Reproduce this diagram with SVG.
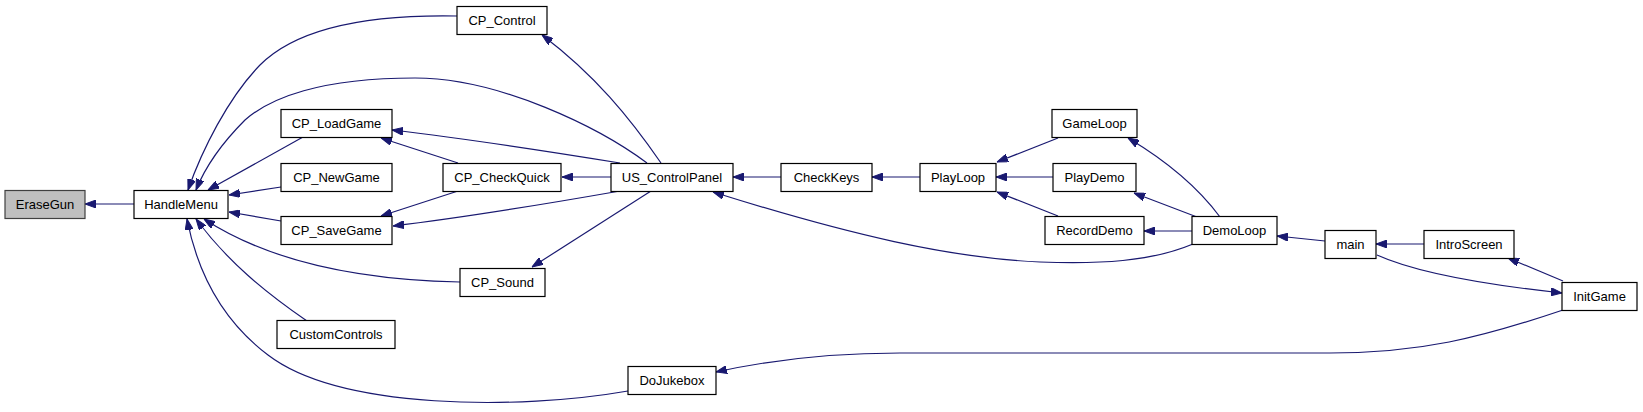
<svg xmlns="http://www.w3.org/2000/svg" width="1643" height="412" viewBox="0 0 1643 412">
<defs>
<marker id="arr" markerUnits="userSpaceOnUse" markerWidth="11" markerHeight="8" refX="11" refY="4" orient="auto">
<path d="M0,0 L11,4 L0,8 z" fill="#191970" stroke="#191970" stroke-width="1"/>
</marker>
</defs>
<style>
.n rect{fill:#ffffff;stroke:#000000;stroke-width:1.2}
.n.hl rect{fill:#bfbfbf;stroke:#404040}
.n text{font-family:"Liberation Sans",Arial,sans-serif;font-size:13px;fill:#000000;text-anchor:middle}
#edges path{fill:none;stroke:#191970;stroke-width:1.2;marker-end:url(#arr)}
</style>
<rect width="1643" height="412" fill="#ffffff"/>
<g id="edges">
<path d="M134,204 L85,204"/>
<path d="M457,16 C350,14 290,35 260,65 C228,98 202,150 188,190"/>
<path d="M647,163 C600,128 500,78 415,78 C320,78 270,98 245,120 C225,140 206,165 196,190"/>
<path d="M303,137 L208,190"/>
<path d="M281,187 L229,195"/>
<path d="M281,221 L229,212"/>
<path d="M460,282 C360,280 270,262 204,219"/>
<path d="M307,321 C265,292 228,262 196,219"/>
<path d="M628,391 C520,410 340,410 268,355 C215,315 195,260 187,219"/>
<path d="M661,163 C630,118 595,75 542,35"/>
<path d="M620,163 C540,150 460,138 392,130"/>
<path d="M458,163 L381,138"/>
<path d="M611,177 L562,177"/>
<path d="M458,191 L381,216"/>
<path d="M620,191 C540,205 460,218 393,226"/>
<path d="M651,191 L532,267"/>
<path d="M781,177 L733,177"/>
<path d="M1193,244 C1150,262 1100,264 1040,262 C950,258 850,235 713,192"/>
<path d="M920,177 L872,177"/>
<path d="M1058,138 L997,162"/>
<path d="M1053,177 L996,177"/>
<path d="M1058,216 L997,192"/>
<path d="M1220,217 C1200,190 1170,163 1128,138"/>
<path d="M1197,217 L1134,193"/>
<path d="M1192,231 L1144,231"/>
<path d="M1325,241 L1277,236"/>
<path d="M1424,244 L1376,244"/>
<path d="M1377,255 C1410,270 1470,283 1562,293"/>
<path d="M1563,281 L1508,258"/>
<path d="M1563,310 C1480,338 1420,353 1330,353 L900,353 C830,353 770,360 716,372"/>
</g>
<g id="EraseGun" class="n hl"><rect x="5" y="190.5" width="80" height="28"/><text x="45" y="209">EraseGun</text></g>
<g id="HandleMenu" class="n"><rect x="134" y="190.5" width="94" height="28"/><text x="181" y="209">HandleMenu</text></g>
<g id="CP_Control" class="n"><rect x="457" y="6.5" width="90" height="28"/><text x="502" y="25">CP_Control</text></g>
<g id="CP_LoadGame" class="n"><rect x="281" y="109.5" width="111" height="28"/><text x="336.5" y="128">CP_LoadGame</text></g>
<g id="CP_NewGame" class="n"><rect x="281" y="163.5" width="111" height="28"/><text x="336.5" y="182">CP_NewGame</text></g>
<g id="CP_SaveGame" class="n"><rect x="281" y="216.5" width="111" height="28"/><text x="336.5" y="235">CP_SaveGame</text></g>
<g id="CustomControls" class="n"><rect x="277" y="320.5" width="118" height="28"/><text x="336" y="339">CustomControls</text></g>
<g id="CP_CheckQuick" class="n"><rect x="443" y="163.5" width="118" height="28"/><text x="502" y="182">CP_CheckQuick</text></g>
<g id="CP_Sound" class="n"><rect x="460" y="268.5" width="85" height="28"/><text x="502.5" y="287">CP_Sound</text></g>
<g id="US_ControlPanel" class="n"><rect x="611" y="163.5" width="122" height="28"/><text x="672" y="182">US_ControlPanel</text></g>
<g id="DoJukebox" class="n"><rect x="628" y="366.5" width="88" height="28"/><text x="672" y="385">DoJukebox</text></g>
<g id="CheckKeys" class="n"><rect x="781" y="163.5" width="91" height="28"/><text x="826.5" y="182">CheckKeys</text></g>
<g id="PlayLoop" class="n"><rect x="920" y="163.5" width="76" height="28"/><text x="958" y="182">PlayLoop</text></g>
<g id="GameLoop" class="n"><rect x="1052" y="109.5" width="85" height="28"/><text x="1094.5" y="128">GameLoop</text></g>
<g id="PlayDemo" class="n"><rect x="1053" y="163.5" width="83" height="28"/><text x="1094.5" y="182">PlayDemo</text></g>
<g id="RecordDemo" class="n"><rect x="1045" y="216.5" width="99" height="28"/><text x="1094.5" y="235">RecordDemo</text></g>
<g id="DemoLoop" class="n"><rect x="1192" y="216.5" width="85" height="28"/><text x="1234.5" y="235">DemoLoop</text></g>
<g id="main" class="n"><rect x="1325" y="230.5" width="51" height="28"/><text x="1350.5" y="249">main</text></g>
<g id="IntroScreen" class="n"><rect x="1424" y="230.5" width="90" height="28"/><text x="1469" y="249">IntroScreen</text></g>
<g id="InitGame" class="n"><rect x="1562" y="282.5" width="75" height="28"/><text x="1599.5" y="301">InitGame</text></g>
</svg>
